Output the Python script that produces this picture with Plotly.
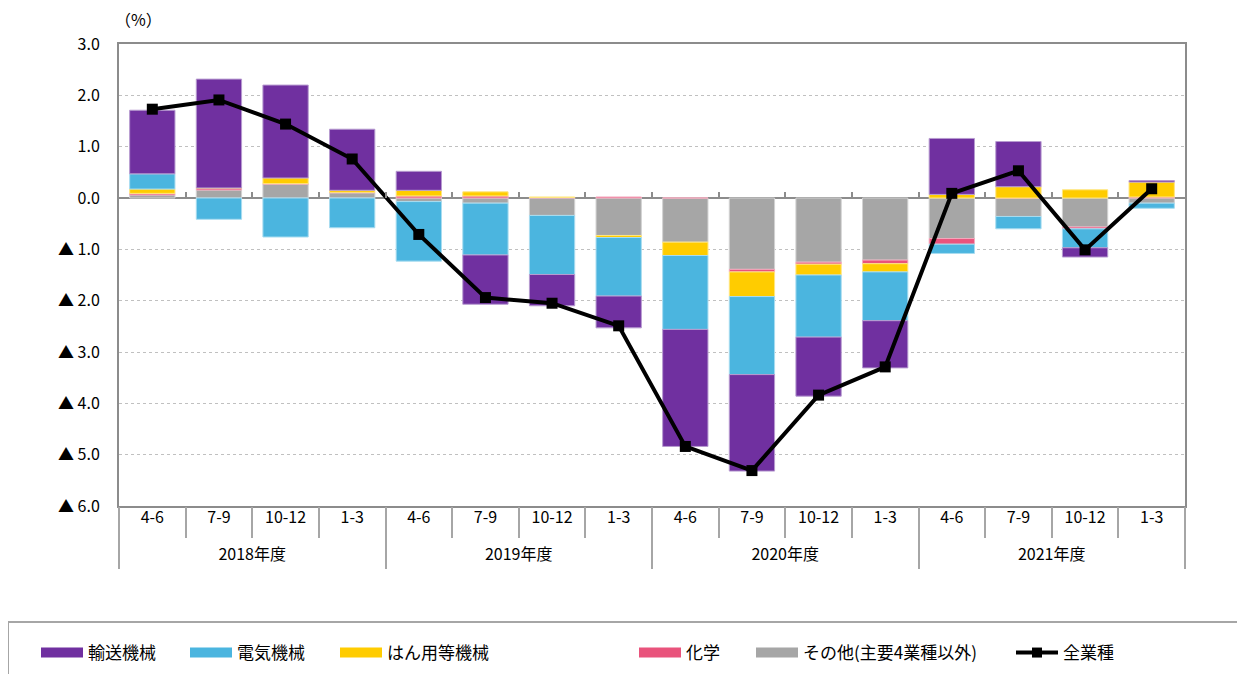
import plotly.graph_objects as go

years = ["2018年度", "2018年度", "2018年度", "2018年度",
         "2019年度", "2019年度", "2019年度", "2019年度",
         "2020年度", "2020年度", "2020年度", "2020年度",
         "2021年度", "2021年度", "2021年度", "2021年度"]
quarters = ["4-6", "7-9", "10-12", "1-3",
            "4-6", "7-9", "10-12", "1-3",
            "4-6", "7-9", "10-12", "1-3",
            "4-6", "7-9", "10-12", "1-3"]
year_labels = ["2018年度", "2019年度", "2020年度", "2021年度"]

other = [0.06, 0.156, 0.27, 0.10, -0.07, -0.10, -0.34, -0.73,
         -0.86, -1.39, -1.25, -1.21, -0.79, -0.36, -0.565, -0.10]
chemical = [0.03, 0.04, 0.01, 0.01, 0.04, 0.04, 0.01, 0.02,
            0.0, -0.05, -0.04, -0.07, -0.11, 0.0, -0.035, 0.02]
general_machinery = [0.085, 0.0, 0.11, 0.04, 0.11, 0.08, 0.01, -0.04,
                     -0.26, -0.48, -0.21, -0.16, 0.07, 0.22, 0.16, 0.29]
electrical = [0.295, -0.415, -0.76, -0.58, -1.16, -1.01, -1.15, -1.14,
              -1.44, -1.52, -1.21, -0.95, -0.18, -0.24, -0.37, -0.10]
transport = [1.24, 2.12, 1.81, 1.19, 0.37, -0.96, -0.61, -0.62,
             -2.28, -1.88, -1.15, -0.92, 1.09, 0.88, -0.18, 0.03]
all_industries = [1.73, 1.91, 1.44, 0.76, -0.71, -1.94, -2.05, -2.49,
                  -4.84, -5.31, -3.84, -3.29, 0.09, 0.53, -1.01, 0.18]

y_tickvals = [3, 2, 1, 0, -1, -2, -3, -4, -5, -6]
y_ticktext = ["3.0", "2.0", "1.0", "0.0", "▲ 1.0", "▲ 2.0", "▲ 3.0",
              "▲ 4.0", "▲ 5.0", "▲ 6.0"]

names = ["輸送機械", "電気機械", "はん用等機械", "化学", "その他(主要4業種以外)"]
total_name = "全業種"
colors = ["#7030A0", "#4BB5DF", "#FFCC00", "#E9537C", "#A6A6A6"]
edge = ["#B79BD0", "#A8DCF0", "#FFE680", "#F4A9BD", "#D2D2D2"]

JP = "Noto Sans CJK JP"
x = [years, quarters]
n = len(quarters)
per_year = n // len(year_labels)

# the page body adds an 8px offset; work in window pixels and convert
OFF = 8
FW, FH = 1245 - 2 * OFF, 682 - 2 * OFF
# plot area and the lower edge of the paper (bottom of the quarter-label row)
L, R, T, B = 119 - OFF, 1185 - OFF, 44 - OFF, 506 - OFF
PB = 537 - OFF
PW, PH = R - L, PB - T
y_domain = [(PB - B) / PH, 1]


def px_x(p):
    return (p - OFF - L) / PW


def px_y(p):
    return (PB - (p - OFF)) / PH


fig = go.Figure()
# stack order: nearest zero first
stack = [(other, 4), (chemical, 3), (general_machinery, 2), (electrical, 1), (transport, 0)]
for vals, i in stack:
    fig.add_trace(go.Bar(x=x, y=vals, name=names[i], marker_color=colors[i],
                         marker_line=dict(color=edge[i], width=1),
                         showlegend=False))

fig.add_trace(go.Scatter(x=x, y=all_industries, mode="lines+markers", name=total_name,
                         line=dict(color="black", width=4),
                         marker=dict(symbol="square", size=11, color="black"),
                         showlegend=False))

# legend swatches, each in its own legend box for exact placement
legend_keys = ["legend", "legend2", "legend3", "legend4", "legend5", "legend6"]
for i in range(5):
    fig.add_trace(go.Scatter(x=[None], y=[None], mode="lines", name=names[i],
                             legend=legend_keys[i],
                             line=dict(color=colors[i], width=10)))
fig.add_trace(go.Scatter(x=[None], y=[None], mode="lines+markers", name=total_name,
                         legend=legend_keys[5],
                         line=dict(color="black", width=4),
                         marker=dict(symbol="square", size=10, color="black")))

# helper axes (quarter labels, year labels, zero-line ticks)
for ax in ["x2", "x3", "x4"]:
    fig.add_trace(go.Scatter(x=[None], y=[None], xaxis=ax, showlegend=False))

swatch_left = [40, 189, 339, 638, 755, 1015]
legend_layout = {}
for key, sx in zip(legend_keys, swatch_left):
    legend_layout[key] = dict(orientation="h", x=px_x(sx - 4), xanchor="left",
                              y=px_y(653), yanchor="middle",
                              font=dict(family=JP, size=17, color="black"),
                              itemwidth=42, bgcolor="rgba(0,0,0,0)")

centers = list(range(n))
boundaries = [k - 0.5 for k in range(n + 1)]
year_centers = [k * per_year + (per_year - 1) / 2 for k in range(len(year_labels))]
year_bounds = [k * per_year - 0.5 for k in range(len(year_labels) + 1)]
xr = [-0.5, n - 0.5]
tick_grey = "#A6A6A6"

fig.update_layout(
    width=FW, height=FH,
    margin=dict(l=L, r=FW - R, t=T, b=FH - PB, autoexpand=False),
    plot_bgcolor="white", paper_bgcolor="white",
    barmode="relative", bargap=0.32,
    font=dict(family=JP, size=16, color="black"),
    xaxis=dict(type="multicategory", range=xr, showticklabels=False, ticks="",
               showdividers=False, showline=True, linecolor="#8C8C8C", linewidth=2,
               mirror=True, showgrid=False),
    xaxis2=dict(overlaying="x", anchor="y", range=xr, tickmode="array",
                tickvals=centers, ticktext=quarters, ticks="",
                tickfont=dict(family=JP, size=16, color="black"),
                minor=dict(tickmode="array", tickvals=boundaries, ticks="outside",
                           ticklen=31, tickcolor=tick_grey, tickwidth=2, showgrid=False),
                showline=False, showgrid=False, zeroline=False),
    xaxis3=dict(overlaying="x", anchor="free", position=0, range=xr, tickmode="array",
                tickvals=year_centers, ticktext=year_labels, ticks="",
                tickfont=dict(family=JP, size=16, color="black"),
                ticklabelstandoff=6,
                minor=dict(tickmode="array", tickvals=year_bounds, ticks="outside",
                           ticklen=31, tickcolor=tick_grey, tickwidth=2, showgrid=False),
                showline=False, showgrid=False, zeroline=False),
    xaxis4=dict(overlaying="x", anchor="free", position=px_y(198), range=xr,
                tickvals=boundaries[1:-1], ticks="inside", ticklen=6,
                tickcolor="#8C8C8C", tickwidth=2, showticklabels=False,
                showline=False, showgrid=False, zeroline=False),
    yaxis=dict(domain=y_domain, range=[-6, 3], tickvals=y_tickvals, ticktext=y_ticktext,
               showline=True, linecolor="#8C8C8C", linewidth=2, mirror=True,
               showgrid=True, gridcolor="#C0C0C0", griddash="dot", gridwidth=1,
               zeroline=True, zerolinecolor="#8C8C8C", zerolinewidth=2,
               ticks="", tickfont=dict(family=JP, size=16, color="black"),
               ticklabelstandoff=14),
    shapes=[dict(type="rect", xref="paper", yref="paper",
                 x0=px_x(8), x1=px_x(1270), y0=px_y(622), y1=px_y(700),
                 line=dict(color="#A6A6A6", width=2), fillcolor="rgba(0,0,0,0)")],
    annotations=[dict(text="（%）", xref="paper", yref="paper",
                      x=px_x(113), y=px_y(19), xanchor="left",
                      yanchor="middle", showarrow=False,
                      font=dict(family=JP, size=16, color="black"))],
    **legend_layout,
)

fig.write_html("out.html")
